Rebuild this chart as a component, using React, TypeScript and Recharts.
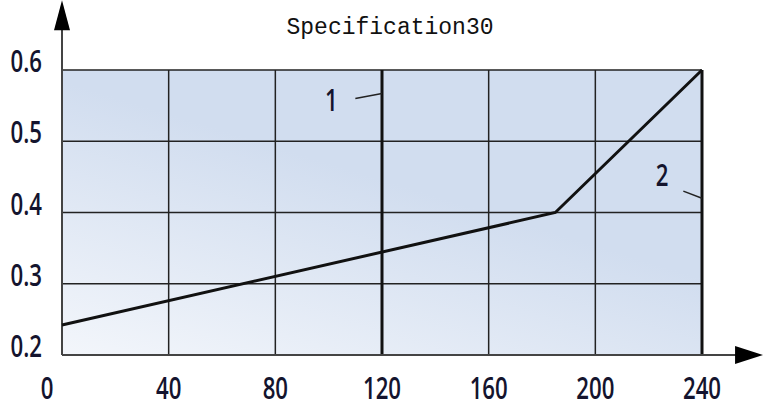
import { CartesianGrid, Line, LineChart, ReferenceDot, ReferenceLine, XAxis, YAxis } from "recharts"

// datos de la curva
const lineX = [0, 185, 240]
const lineY = [0.242, 0.4, 0.6]

const xTicks = [0, 40, 80, 120, 160, 200, 240]
const yTicks = [0.2, 0.3, 0.4, 0.5, 0.6]

// lineas marcadas 1 y 2
const markerX = [120, 240]
const markerLabels = ["1", "2"]
const labelX = [101, 225]
const labelY = [0.558, 0.453]
const leaderFrom = [[110, 0.56], [233, 0.43]]
const leaderTo = [[120, 0.567], [240, 0.42]]

const title = "Specification30"

const data = lineX.map((x, i) => ({ x, y: lineY[i] }))

const TICK_FONT = "'Open Sans', sans-serif"
const TEXT_COLOR = "#14142e"

// texto condensado, como la fuente del original
const Narrow = ({ x, y, anchor, children }: any) => (
    <g transform={`translate(${x},${y}) scale(0.74,1)`}>
        <text x={0} y={0} textAnchor={anchor} fontFamily={TICK_FONT} fontWeight={600}
            fontSize={30} fill={TEXT_COLOR}>{children}</text>
    </g>
)

const XTick = (props: any) => {
    const { x, y, payload, index } = props
    return <Narrow x={x + (index === 0 ? -15 : 0)} y={y + 36} anchor="middle">{payload.value}</Narrow>
}

const YTick = (props: any) => {
    const { x, y, payload } = props
    return <Narrow x={x} y={y + 2} anchor="end">{payload.value.toFixed(1)}</Narrow>
}

const MarkLabel = (text: string) => (props: any) => {
    const vb = props.viewBox
    return <Narrow x={vb.x} y={vb.y + 11} anchor="middle">{text}</Narrow>
}

const arrowUp = (p: any) => (
    <g>
        <line x1={p.x1} y1={p.y1} x2={p.x2} y2={p.y2 + 20} stroke="#444" strokeWidth={2} />
        <polygon points={`${p.x2},${p.y2} ${p.x2 - 8},${p.y2 + 30} ${p.x2 + 8},${p.y2 + 30}`} fill="#000" />
    </g>
)

const arrowRight = (p: any) => (
    <g>
        <line x1={p.x1} y1={p.y1} x2={p.x2 - 20} y2={p.y2} stroke="#444" strokeWidth={2} />
        <polygon points={`${p.x2},${p.y2} ${p.x2 - 28},${p.y2 - 9} ${p.x2 - 28},${p.y2 + 9}`} fill="#000" />
    </g>
)

export default function App() {
    return (
        <div style={{ position: "absolute", left: 0, top: 0, width: 763, height: 410, background: "#fff" }}>
            <div style={{
                position: "absolute", left: 0, width: 780, top: 15, textAlign: "center",
                fontFamily: "'Liberation Mono', monospace", fontSize: 23, color: "#111"
            }}>{title}</div>
            <LineChart width={763} height={410} data={data}
                margin={{ top: 70, right: 61, bottom: 15, left: 2 }}>
                <defs>
                    <linearGradient id="bg" x1="0" y1="1" x2="0.45" y2="0.35">
                        <stop offset="0%" stopColor="#f3f6fb" />
                        <stop offset="100%" stopColor="#d1ddef" />
                    </linearGradient>
                </defs>
                <CartesianGrid stroke="#222" strokeWidth={1.5} fill="url(#bg)" fillOpacity={1} />
                <XAxis dataKey="x" type="number" domain={[0, 240]} ticks={xTicks} height={40}
                    tickLine={false} axisLine={false} tick={<XTick />} interval={0} />
                <YAxis type="number" domain={[0.2, 0.6]} ticks={yTicks} width={60}
                    tickLine={false} axisLine={false} tick={<YTick />} tickMargin={14} interval={0} />
                {markerX.map((mx) => (
                    <ReferenceLine key={mx} x={mx} stroke="#111" strokeWidth={3} />
                ))}
                <ReferenceLine segment={[{ x: 0, y: 0.2 }, { x: 0, y: 0.698 }]} ifOverflow="visible" shape={arrowUp} />
                <ReferenceLine segment={[{ x: 0, y: 0.2 }, { x: 262.9, y: 0.2 }]} ifOverflow="visible" shape={arrowRight} />
                <Line dataKey="y" stroke="#111" strokeWidth={3} dot={false} isAnimationActive={false} />
                {markerLabels.map((t, i) => (
                    <ReferenceLine key={"l" + t} segment={[
                        { x: leaderFrom[i][0], y: leaderFrom[i][1] },
                        { x: leaderTo[i][0], y: leaderTo[i][1] }]}
                        stroke="#222" strokeWidth={1.5} />
                ))}
                {markerLabels.map((t, i) => (
                    <ReferenceDot key={"d" + t} x={labelX[i]} y={labelY[i]} r={0}
                        label={MarkLabel(t)} />
                ))}
            </LineChart>
        </div>
    )
}
